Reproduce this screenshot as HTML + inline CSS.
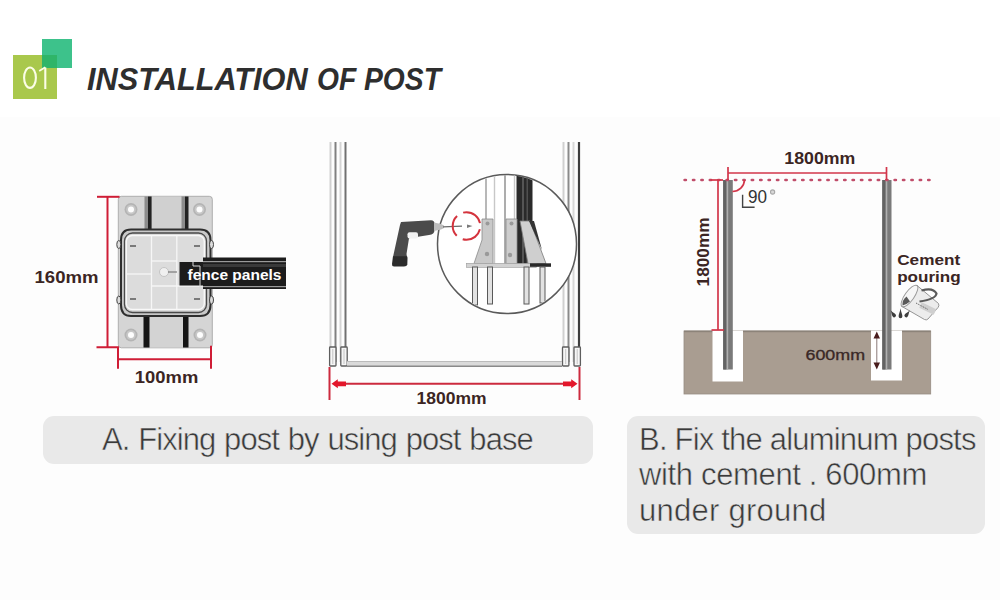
<!DOCTYPE html>
<html><head><meta charset="utf-8">
<style>
html,body{margin:0;padding:0;}
body{width:1000px;height:600px;overflow:hidden;background:#fff;position:relative;font-family:"Liberation Sans",sans-serif;}
.abs{position:absolute;}
#bg2{left:0;top:117px;width:1000px;height:483px;background:#fdfdfd;}
#sq1{left:13px;top:55px;width:44px;height:44px;background:#a9c84c;}
#sq2{left:42px;top:39px;width:30px;height:29px;background:#3dc28b;}
#sq3{left:42px;top:55px;width:15px;height:13px;background:#2fb568;}
#num{left:20px;top:58px;width:30px;font-size:30px;color:#fbfbe8;letter-spacing:-1px;line-height:40px;}
.title{top:62px;font-size:32px;transform-origin:0 0;font-weight:bold;font-style:italic;color:#2e2e2e;white-space:nowrap;line-height:34px;}
#title{left:87px;transform:scaleX(0.96);}
#title2{left:317px;transform:scaleX(0.882);}
.box{background:#e9e9e9;border-radius:11px;color:#3a3a3a;font-size:31px;letter-spacing:-0.75px;-webkit-text-stroke:0.5px #e9e9e9;}
#boxA{left:43px;top:416px;width:550px;height:48px;}
#boxB{left:627px;top:416px;width:358px;height:118px;}
#txtA{left:102px;word-spacing:1.2px;letter-spacing:-0.95px;top:420px;white-space:nowrap;line-height:40px;}
#txtB{left:639px;top:421.5px;white-space:nowrap;line-height:35.8px;}
svg{position:absolute;left:0;top:0;}
</style></head>
<body>
<div class="abs" id="bg2"></div>
<div class="abs" id="sq1"></div>
<div class="abs" id="sq2"></div>
<div class="abs" id="sq3"></div>
<div class="abs title" id="title">INSTALLATION</div>
<div class="abs title" id="title2">OF POST</div>

<div class="abs box" id="boxA"></div>
<div class="abs box" id="boxB"></div>
<div class="abs box" id="txtA" style="background:none">A. Fixing post by using post base</div>
<div class="abs box" id="txtB" style="background:none"><span style="letter-spacing:-0.8px">B. Fix the aluminum posts</span><br><span style="letter-spacing:-0.35px">with cement . 600mm</span><br><span style="letter-spacing:0.25px">under ground</span></div>

<svg width="1000" height="600" viewBox="0 0 1000 600">
<g id="num" fill="none" stroke="#fbfde6" stroke-width="2.1">
 <ellipse cx="30" cy="77.7" rx="5.9" ry="10.2"/>
 <path d="M45.3 67.5 V89"/>
 <path d="M39.2 71 L45.3 67.2" stroke-width="1.8"/>
</g>
<!-- LEFT DIAGRAM -->
<g id="left">
 <!-- plate -->
 <rect x="118.3" y="196.3" width="94" height="151.5" rx="3" fill="#d5d5d5" stroke="#a8a8a8" stroke-width="0.9"/>
 <rect x="151.5" y="196.5" width="30" height="32" fill="#d0d0d0"/>
 <rect x="149.5" y="316" width="33.5" height="31.5" fill="#d3d3d3"/>
 <!-- channels -->
 <rect x="144.5" y="196.5" width="3.6" height="32.5" fill="#8c8c8c"/>
 <rect x="148" y="196.5" width="3.6" height="33" fill="#222"/>
 <rect x="181.5" y="196.5" width="3.6" height="32.5" fill="#8c8c8c"/>
 <rect x="185" y="196.5" width="3.5" height="33" fill="#222"/>
 <rect x="143.5" y="313" width="6" height="34.5" fill="#151515"/>
 <rect x="183" y="313" width="5.5" height="34.5" fill="#151515"/>
 <!-- holes -->
 <g fill="#b4b4b4"><circle cx="131" cy="209.5" r="6.5"/><circle cx="199.5" cy="209.5" r="6.5"/><circle cx="131" cy="335" r="6.5"/><circle cx="200" cy="335" r="6.5"/></g>
 <g fill="#c8c8c8"><circle cx="131" cy="209.5" r="4.8"/><circle cx="199.5" cy="209.5" r="4.8"/><circle cx="131" cy="335" r="4.8"/><circle cx="200" cy="335" r="4.8"/></g>
 <g fill="#fdfdfd"><circle cx="131" cy="209.5" r="3"/><circle cx="199.5" cy="209.5" r="3"/><circle cx="131" cy="335" r="3"/><circle cx="200" cy="335" r="3"/></g>
 <!-- bracket -->
 <path d="M131 229.5 H200 Q210.5 229.5 210.5 240 V305 Q210.5 316 200 316 H131 Q121 316 121 305 V240 Q121 229.5 131 229.5 Z" fill="#c9c9c9" stroke="#2e2e2e" stroke-width="2"/>
 <rect x="124.5" y="233" width="82" height="79.5" rx="8" fill="#d2d2d2" stroke="#4a4a4a" stroke-width="1.3"/>
 <rect x="126.3" y="235.5" width="78" height="74" rx="6" fill="#dcdcdc" stroke="#f8f8f8" stroke-width="1.4"/>
 <g stroke="#f6f6f6" stroke-width="1.3" fill="none">
  <line x1="151.5" y1="235.5" x2="151.5" y2="309.5"/>
  <line x1="176.8" y1="235.5" x2="176.8" y2="309.5"/>
  <line x1="151.5" y1="261" x2="176.8" y2="261"/>
  <line x1="126.3" y1="274" x2="151.5" y2="274"/>
  <line x1="151.5" y1="286" x2="204.3" y2="286"/>
 </g>
 <g fill="#7a7a7a"><rect x="130" y="245" width="6" height="2"/><rect x="194" y="245" width="6" height="2"/><rect x="130" y="298" width="6" height="2"/><rect x="194" y="298" width="6" height="2"/></g>
 <circle cx="164" cy="272" r="4.5" fill="#f0f0f0" stroke="#c4c4c4" stroke-width="1"/>
 <line x1="168" y1="272" x2="177" y2="272" stroke="#666" stroke-width="1"/>
 <!-- side lugs -->
 <ellipse cx="118.8" cy="244.5" rx="2" ry="4" fill="#ddd" stroke="#444" stroke-width="1"/>
 <ellipse cx="211.5" cy="244.5" rx="2" ry="4" fill="#ddd" stroke="#444" stroke-width="1"/>
 <ellipse cx="118.8" cy="300" rx="2" ry="4" fill="#ddd" stroke="#444" stroke-width="1"/>
 <ellipse cx="211.5" cy="300" rx="2" ry="4" fill="#ddd" stroke="#444" stroke-width="1"/>
 <!-- fence panel bar -->
 <rect x="203" y="257.5" width="83" height="31.5" fill="#1c1c1c"/>
 <rect x="179.5" y="262" width="24" height="23.5" fill="#1c1c1c"/>
 <rect x="203" y="261" width="83" height="1.2" fill="#9a9a9a"/>
 <rect x="203" y="286" width="83" height="1.2" fill="#9a9a9a"/>
 <rect x="203" y="264" width="83" height="3" fill="#3a3a3a"/>
 <path d="M193 262 V266 H200 V290" stroke="#d8d8d8" stroke-width="1" fill="none"/>
 <text x="187.5" y="280" font-family="Liberation Sans" font-weight="bold" font-size="15.5" fill="#fff" textLength="94" lengthAdjust="spacingAndGlyphs">fence panels</text>
 <!-- dimension lines -->
 <g stroke="#cf1d36" stroke-width="2" fill="none">
  <line x1="107.5" y1="196.8" x2="107.5" y2="347.3"/>
  <line x1="97" y1="196.8" x2="119.5" y2="196.8"/>
  <path d="M96.5 347.3 H118 V368.8"/>
  <line x1="211" y1="345.7" x2="211" y2="368.8"/>
  <line x1="118" y1="359.3" x2="211" y2="359.3"/>
 </g>
 <text x="34.5" y="282.8" font-family="Liberation Sans" font-weight="bold" font-size="17" fill="#3b2523" textLength="64" lengthAdjust="spacingAndGlyphs">160mm</text>
 <text x="134.8" y="382.5" font-family="Liberation Sans" font-weight="bold" font-size="17" fill="#3b2523" textLength="63.5" lengthAdjust="spacingAndGlyphs">100mm</text>
</g>
<!-- MIDDLE DIAGRAM -->
<g id="mid">
 <!-- left post -->
 <g stroke-width="2" fill="none">
  <line x1="330.5" y1="142" x2="330.5" y2="362" stroke="#d0d0d0"/>
  <line x1="335.5" y1="142" x2="335.5" y2="362" stroke="#808080"/>
  <line x1="340.5" y1="142" x2="340.5" y2="362" stroke="#d4d4d4"/>
  <line x1="345.5" y1="142" x2="345.5" y2="362" stroke="#707070"/>
  <line x1="563.5" y1="142" x2="563.5" y2="362" stroke="#d0d0d0"/>
  <line x1="568.5" y1="142" x2="568.5" y2="362" stroke="#8a8a8a"/>
  <line x1="573.5" y1="142" x2="573.5" y2="362" stroke="#d8d8d8"/>
  <line x1="579" y1="142" x2="579" y2="362" stroke="#3e3e3e" stroke-width="2.2"/>
 </g>
 <!-- post feet -->
 <g fill="#f6f6f6" stroke="#5e5e5e" stroke-width="1.3">
  <rect x="329.6" y="347" width="6.4" height="19" rx="0.8"/>
  <rect x="340.8" y="347" width="6.4" height="19" rx="0.8"/>
  <rect x="562.5" y="347" width="6.4" height="19" rx="0.8"/>
  <rect x="574" y="347" width="6.4" height="19" rx="0.8"/>
 </g>
 <g stroke="#c4c4c4" stroke-width="1"><line x1="332.8" y1="349" x2="332.8" y2="364"/><line x1="344" y1="349" x2="344" y2="364"/><line x1="565.7" y1="349" x2="565.7" y2="364"/><line x1="577.2" y1="349" x2="577.2" y2="364"/></g>
 <!-- bottom rail -->
 <rect x="347" y="361" width="215" height="6" fill="#dadada"/>
 <rect x="347" y="365.5" width="215" height="1.5" fill="#8a8a8a"/>
 <rect x="347" y="361" width="215" height="1" fill="#bbb"/>
 <!-- circle detail -->
 <circle cx="507" cy="244" r="69.5" fill="#fff" stroke="#5a5a5a" stroke-width="1.5"/>
 <clipPath id="cc"><circle cx="507" cy="244" r="68.7"/></clipPath>
 <g clip-path="url(#cc)">
  <g stroke-width="1.4" fill="none">
   <line x1="486" y1="170" x2="486" y2="264" stroke="#9a9a9a"/>
   <line x1="494.5" y1="170" x2="494.5" y2="264" stroke="#c8c8c8"/>
   <line x1="505" y1="170" x2="505" y2="264" stroke="#8a8a8a"/>
   <line x1="514.5" y1="170" x2="514.5" y2="264" stroke="#c8c8c8"/>
  </g>
  <rect x="516.5" y="170" width="16" height="94" fill="#2a2a2a"/>
  <rect x="522" y="170" width="2" height="94" fill="#555"/>
  <rect x="526.5" y="170" width="1.5" height="94" fill="#505050"/>
  <!-- gussets -->
  <path d="M482 219 L493 219 L493 263.5 L474 263.5 L482 240 Z" fill="#c9c9c9" stroke="#8a8a8a" stroke-width="0.8"/>
  <path d="M506 219 L517 219 L517 263.5 L506 263.5 Z" fill="#cdcdcd" stroke="#8a8a8a" stroke-width="0.8"/>
  <path d="M520 221 L530 221 L546 263.5 L528 263.5 Z" fill="#cfcfcf" stroke="#7a7a7a" stroke-width="0.8"/>
  <path d="M529 221 L534 221 L542 250 Z" fill="#333"/>
  <g fill="#999"><circle cx="487.5" cy="223.5" r="2"/><circle cx="511.5" cy="223.5" r="2"/><circle cx="487" cy="254" r="2.2"/><circle cx="510" cy="255" r="2.2"/></g>
  <!-- base plate -->
  <rect x="466.5" y="263.3" width="70" height="4" fill="#d2d2d2" stroke="#999" stroke-width="0.6"/>
  <rect x="530" y="263.3" width="21" height="3.5" fill="#2a2a2a"/>
  <!-- anchor bolts -->
  <g fill="#e2e2e2" stroke="#5a5a5a" stroke-width="1">
   <rect x="472.5" y="267" width="5" height="38"/>
   <rect x="487.5" y="267" width="5" height="37"/>
   <rect x="524" y="267" width="5" height="37"/>
   <rect x="540" y="267" width="5" height="36"/>
  </g>
 </g>
 <!-- drill -->
 <path d="M401 222 L431 220.3 Q434.5 220.3 434.5 224 L434.5 230 Q434.5 234.5 429 235 L418 236.8 L409 238.3 L406.5 254 L407 257 L393 257 L400 225 Z" fill="#4b4b4b"/>
 <path d="M393 256.3 L406.8 256.3 Q407.5 256.3 407.5 258 L407.3 264.5 Q407 266.5 404 266.5 L394 266.5 Q391.8 266.5 392 264 Z" fill="#2c2c2c"/>
 <rect x="407.5" y="232.3" width="10.5" height="6.3" rx="2" fill="#f2f2f2"/>
 <path d="M434 222.5 L441 224 L444 225.5 L444 228 L441 229.5 L434 231 Z" fill="#bdbdbd"/>
 <line x1="443" y1="226.8" x2="462" y2="226.2" stroke="#6a6a6a" stroke-width="1.2"/>
 <path d="M467 224.5 L472.5 226 L467 228 Z" fill="#7a7a7a"/>
 <circle cx="466.5" cy="226" r="13.8" fill="none" stroke="#d4333d" stroke-width="2" stroke-dasharray="22 6.9" stroke-dashoffset="25.5"/>
 <!-- dimension -->
 <g stroke="#cc2a3e" stroke-width="2" fill="none">
  <line x1="329.5" y1="367" x2="329.5" y2="400"/>
  <line x1="579.5" y1="367" x2="579.5" y2="400"/>
  <line x1="340" y1="383.8" x2="570" y2="383.8"/>
 </g>
 <path d="M331.5 383.8 L337.8 379.3 L337.8 381.4 L346 381.4 L346 386.2 L337.8 386.2 L337.8 388.3 Z" fill="#e3172b"/>
 <path d="M577.5 383.8 L571.2 379.3 L571.2 381.4 L563 381.4 L563 386.2 L571.2 386.2 L571.2 388.3 Z" fill="#e3172b"/>
 <text x="416.5" y="403.5" font-family="Liberation Sans" font-weight="bold" font-size="16" fill="#3b2523" textLength="70" lengthAdjust="spacingAndGlyphs">1800mm</text>
</g>
<!-- RIGHT DIAGRAM -->
<g id="right">
 <!-- ground -->
 <rect x="684" y="331" width="246.7" height="63" fill="#a99d91" stroke="#968c82" stroke-width="0.8"/>
 <rect x="684" y="330.6" width="246.7" height="1.6" fill="#8c8379"/>
 <rect x="712.5" y="330.5" width="30.5" height="51" fill="#fff"/>
 <rect x="871" y="330.5" width="31" height="50" fill="#fff"/>
 <!-- posts -->
 <rect x="723.2" y="180" width="9.6" height="189.5" fill="#7a7a7a"/>
 <rect x="723.2" y="180" width="3.2" height="189.5" fill="#636363"/>
 <rect x="726.6" y="180" width="1.6" height="189.5" fill="#b0b0b0"/>
 <rect x="882.3" y="180" width="9.2" height="189.5" fill="#7a7a7a"/>
 <rect x="882.3" y="180" width="3.2" height="189.5" fill="#636363"/>
 <rect x="885.7" y="180" width="1.6" height="189.5" fill="#b0b0b0"/>
 <!-- dotted line -->
 <line x1="684.6" y1="180" x2="933" y2="180" stroke="#c04d6a" stroke-width="2.6" stroke-linecap="round" stroke-dasharray="1.3 7.1"/>
 <!-- dims -->
 <g stroke="#d2364a" stroke-width="1.7" fill="none">
  <line x1="728" y1="173" x2="887" y2="173"/>
  <line x1="728" y1="167" x2="728" y2="180"/>
  <line x1="886.5" y1="167" x2="886.5" y2="180"/>
  <line x1="718" y1="180" x2="718" y2="330"/>
  <line x1="710.5" y1="180" x2="723" y2="180"/>
  <line x1="711.5" y1="330" x2="724" y2="330"/>
  <path d="M744.5 180 A12 12 0 0 1 732.5 191.5"/>
 </g>
 <path d="M742.6 194.7 V207.3 H754.6" stroke="#444" stroke-width="1.4" fill="none"/>
 <text x="747.9" y="203.2" font-family="Liberation Sans" font-size="18.4" fill="#333" textLength="19" lengthAdjust="spacingAndGlyphs">90</text>
 <circle cx="772.6" cy="192" r="2.1" fill="#d8d8d8" stroke="#a8a8a8" stroke-width="1.1"/>
 <text x="784.3" y="164.4" font-family="Liberation Sans" font-weight="bold" font-size="17" fill="#3b2523" textLength="71" lengthAdjust="spacingAndGlyphs">1800mm</text>
 <text transform="translate(709 286.4) rotate(-90)" font-family="Liberation Sans" font-weight="bold" font-size="17" fill="#3b2523" textLength="69" lengthAdjust="spacingAndGlyphs">1800mm</text>
 <!-- 600 arrow -->
 <line x1="876.8" y1="337" x2="876.8" y2="364" stroke="#8a7a78" stroke-width="1"/>
 <path d="M876.8 331.5 L873.5 338.5 L880 338.5 Z" fill="#4a1e1e"/>
 <path d="M876.8 369.5 L873.5 362.5 L880 362.5 Z" fill="#4a1e1e"/>
 <text x="805.5" y="359.5" font-family="Liberation Sans" font-size="15.5" fill="#3a2826" textLength="59.5" lengthAdjust="spacingAndGlyphs" stroke="#3a2826" stroke-width="0.35">600mm</text>
 <!-- cement pouring -->
 <text x="897.2" y="264.7" font-family="Liberation Sans" font-weight="bold" font-size="15.3" fill="#3b2523" textLength="63" lengthAdjust="spacingAndGlyphs">Cement</text>
 <text x="897.2" y="282" font-family="Liberation Sans" font-weight="bold" font-size="15.3" fill="#3b2523" textLength="63.5" lengthAdjust="spacingAndGlyphs">pouring</text>
 <!-- bucket -->
 <path d="M917 285.5 L938.5 303.5 Q939.5 306 938 307.5 L928 319 Q926.5 320.5 924.5 319.5 L902 306.5 Z" fill="#ececec" stroke="#8a8a8a" stroke-width="0.9"/>
 <path d="M920.5 305 L935 312" stroke="#cfcfcf" stroke-width="6" fill="none"/>
 <path d="M916 303 L928 309.5" stroke="#6a6a6a" stroke-width="1" stroke-dasharray="1.2 0.8" fill="none"/>
 <ellipse cx="909.5" cy="296" rx="4.6" ry="12.9" transform="rotate(35.5 909.5 296)" fill="#f6f6f6" stroke="#9a9a9a" stroke-width="1"/>
 <path d="M902.5 305.5 Q902 300 906.5 296.5 L910 301.5 Q906 305 902.5 305.5 Z" fill="#5a5a5a"/>
 <path d="M921.5 290.5 Q933 287 936.5 293.5 Q936 299 919.5 301.5" fill="none" stroke="#5a5a5a" stroke-width="2.2"/>
 <g fill="#3e3e3e">
  <path transform="rotate(0 900.5 316.3)" d="M900.5 308.3 C901.07 312.30 902.4 314.40000000000003 902.4 316.3 A1.9 1.9 0 0 1 898.6 316.3 C898.6 314.40000000000003 899.93 312.30 900.5 308.3 Z"/>
  <path transform="rotate(-35 894.2 315.5)" d="M894.2 309.0 C894.74 312.25 896.0 313.7 896.0 315.5 A1.8 1.8 0 0 1 892.4000000000001 315.5 C892.4000000000001 313.7 893.66 312.25 894.2 309.0 Z"/>
  <path transform="rotate(35 906.2 315.5)" d="M906.2 309.0 C906.74 312.25 908.0 313.7 908.0 315.5 A1.8 1.8 0 0 1 904.4000000000001 315.5 C904.4000000000001 313.7 905.66 312.25 906.2 309.0 Z"/>
 </g>
</g>
</svg>
</body></html>
